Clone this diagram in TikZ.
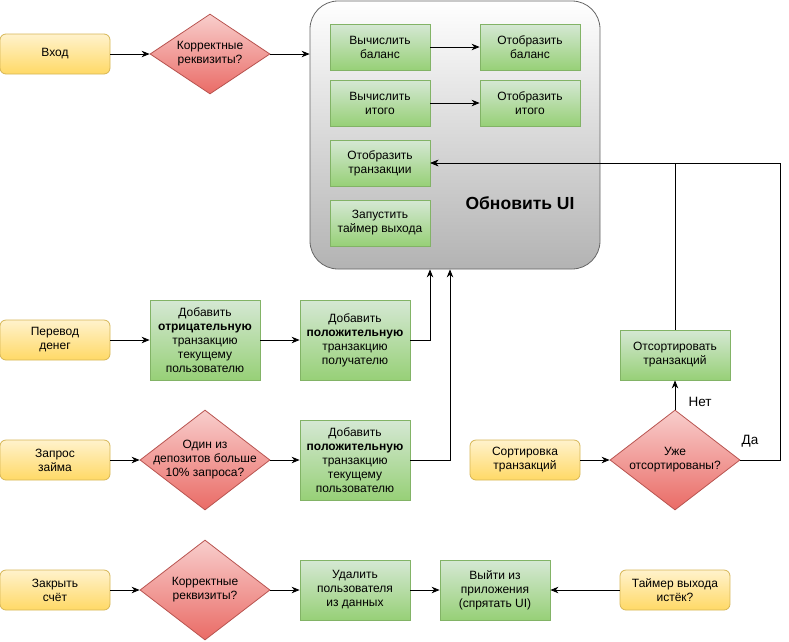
\documentclass[tikz,border=0pt]{standalone}
\usepackage{fontspec}
\setmainfont{Liberation Sans}
\usetikzlibrary{shapes.geometric,arrows.meta,calc}
\definecolor{yelS}{HTML}{D6B656}
\definecolor{yelT}{HTML}{FFF2CC}
\definecolor{yelB}{HTML}{FFD966}
\definecolor{grnS}{HTML}{82B366}
\definecolor{grnT}{HTML}{D5E8D4}
\definecolor{grnB}{HTML}{97D077}
\definecolor{redS}{HTML}{B85450}
\definecolor{redT}{HTML}{F8CECC}
\definecolor{redB}{HTML}{EA6B66}
\definecolor{uiS}{HTML}{666666}
\definecolor{uiB}{HTML}{B3B3B3}
\begin{document}
\begin{tikzpicture}[x=1pt,y=-1pt,
  font=\fontsize{12}{14}\selectfont,
  yel/.style={draw=yelS, top color=yelT, bottom color=yelB, rounded corners=6pt,
    minimum width=110pt, minimum height=40pt, inner sep=0pt, align=center, line width=0.8pt},
  grn/.style={draw=grnS, top color=grnT, bottom color=grnB, inner sep=0pt,
    align=center, line width=0.8pt},
  dia/.style={diamond, draw=redS, top color=redT, bottom color=redB, inner sep=0pt,
    line width=0.8pt},
  lbl/.style={align=center, inner sep=0pt},
  arr/.style={-{Stealth[length=8pt,width=6.5pt]}, line width=0.8pt},
]
\useasboundingbox (0,0) rectangle (789,641);

% container
\node[draw=uiS, top color=white, bottom color=uiB, rounded corners=28pt,
  minimum width=290pt, minimum height=268pt, line width=0.8pt] (ui) at (455,135) {};
\node[font=\fontsize{17.5}{20}\selectfont\bfseries] (title) at (520,203) {Обновить UI};

\node[grn, minimum width=100pt, minimum height=46pt] (vb) at (380,47) {Вычислить\\баланс};
\node[grn, minimum width=100pt, minimum height=46pt] (ob) at (530,47) {Отобразить\\баланс};
\node[grn, minimum width=100pt, minimum height=46pt] (vi) at (380,103) {Вычислить\\итого};
\node[grn, minimum width=100pt, minimum height=46pt] (oi) at (530,103) {Отобразить\\итого};
\node[grn, minimum width=100pt, minimum height=46pt] (ot) at (380,163) {Отобразить\\транзакции};
\node[grn, minimum width=100pt, minimum height=46pt] (zt) at (380,223) {Запустить\\таймер выхода};

% row 1
\node[yel] (vhod) at (55,54) {Вход};
\node[dia, minimum width=120pt, minimum height=80pt] (d1) at (210,54) {};
\node[lbl] (d1t) at (d1) {Корректные\\реквизиты?};

% row 2
\node[yel] (per) at (55,340) {Перевод\\денег};
\node[grn, minimum width=110pt, minimum height=80pt] (neg) at (205,340)
  {Добавить\\\textbf{отрицательную}\\транзакцию\\текущему\\пользователю};
\node[grn, minimum width=110pt, minimum height=80pt] (pos1) at (355,340)
  {Добавить\\\textbf{положительную}\\транзакцию\\получателю};

% row 3
\node[yel] (zap) at (55,460) {Запрос\\займа};
\node[dia, minimum width=130pt, minimum height=100pt] (d2) at (205,460) {};
\node[lbl] (d2t) at (d2) {Один из\\депозитов больше\\10\% запроса?};
\node[grn, minimum width=110pt, minimum height=80pt] (pos2) at (355,460)
  {Добавить\\\textbf{положительную}\\транзакцию\\текущему\\пользователю};

% sort
\node[yel] (sortin) at (525,460) {Сортировка\\транзакций};
\node[dia, minimum width=130pt, minimum height=100pt] (d3) at (675,460) {};
\node[lbl] (d3t) at (d3) {Уже\\отсортированы?};
\node[grn, minimum width=110pt, minimum height=50pt] (srt) at (675,355) {Отсортировать\\транзакций};
\node[lbl, font=\fontsize{13.5}{16}\selectfont] (net) at (700,402) {Нет};
\node[lbl, font=\fontsize{13.5}{16}\selectfont] (da) at (750,441) {Да};

% row 4
\node[yel] (zak) at (55,590) {Закрыть\\счёт};
\node[dia, minimum width=130pt, minimum height=100pt] (d4) at (205,590) {};
\node[lbl] (d4t) at (d4) {Корректные\\реквизиты?};
\node[grn, minimum width=110pt, minimum height=60pt] (del) at (355,590) {Удалить\\пользователя\\из данных};
\node[grn, minimum width=110pt, minimum height=60pt] (exit) at (495,590) {Выйти из\\приложения\\(спрятать UI)};
\node[yel] (tim) at (675,590) {Таймер выхода\\истёк?};

\coordinate (u1) at ([xshift=-25pt]ui.south);
\coordinate (u2) at ([xshift=-5pt]ui.south);

% connectors
\draw[arr] (vhod) -- (d1);
\draw[arr] (d1.east) -- (d1.east -| ui.west);
\draw[arr] (vb) -- (ob);
\draw[arr] (vi) -- (oi);
\draw[arr] (per) -- (neg);
\draw[arr] (neg) -- (pos1);
\draw[arr] (pos1.east) -| (u1);
\draw[arr] (zap) -- (d2);
\draw[arr] (d2) -- (pos2);
\draw[arr] (pos2.east) -| (u2);
\draw[arr] (sortin) -- (d3);
\draw[arr] (d3.north) -- (srt.south);
\draw[arr] (d3.east) -- ++(40,0) |- (ot.east);
\draw[arr] (srt.north) |- (ot.east);
\draw[arr] (zak) -- (d4);
\draw[arr] (d4) -- (del);
\draw[arr] (del) -- (exit);
\draw[arr] (tim) -- (exit);
\end{tikzpicture}
\end{document}
